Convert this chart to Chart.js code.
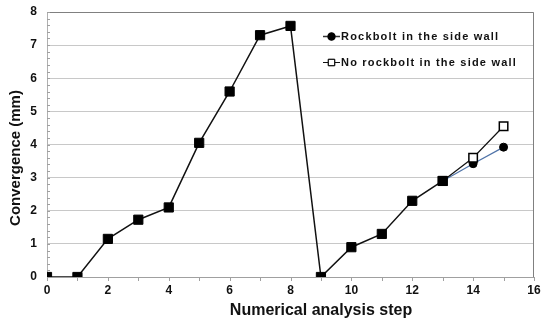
<!DOCTYPE html>
<html>
<head>
<meta charset="utf-8">
<script src="https://cdn.jsdelivr.net/npm/chart.js@4.4.1/dist/chart.umd.min.js"></script>
<style>
  html, body { margin: 0; padding: 0; background: #fff; }
  #wrap { width: 542px; height: 320px; position: relative; }
</style>
</head>
<body>
<div id="wrap"><canvas id="convChart" width="542" height="320"></canvas></div>
<script>
// numerical analysis steps and convergence (mm)
var commonSteps = [0, 1, 2, 3, 4, 5, 6, 7, 8, 9, 10, 11, 12, 13];
var commonValues = [0, 0, 1.15, 1.73, 2.1, 4.05, 5.6, 7.3, 7.58, 0, 0.9, 1.3, 2.3, 2.9];
var branchSteps = [13, 14, 15];
var rockboltValues = [2.9, 3.42, 3.92];
var noRockboltValues = [2.9, 3.6, 4.55];
var legendLabels = ['Rockbolt in the side wall', 'No rockbolt in the side wall'];
var xTitle = 'Numerical analysis step';
var yTitle = 'Convergence (mm)';

var FONT = '"Liberation Sans", Arial, sans-serif';

function pts(xs, ys) {
    return xs.map((x, i) => ({ x: x, y: ys[i] }));
}

// minor ticks, frame, titles and the legend inside the plot
var decoPlugin = {
    id: 'deco',
    afterDraw: function (chart) {
        var ctx = chart.ctx;
        var a = chart.chartArea;
        var xs = chart.scales.x, ys = chart.scales.y;
        ctx.save();

        // frame top + right
        ctx.strokeStyle = '#808080';
        ctx.lineWidth = 1;
        ctx.beginPath();
        ctx.moveTo(a.left, a.top + 0.5);
        ctx.lineTo(a.right - 0.5, a.top + 0.5);
        ctx.lineTo(a.right - 0.5, a.bottom);
        ctx.stroke();

        // y minor ticks (inside)
        ctx.strokeStyle = '#a0a0a0';
        ctx.beginPath();
        for (var v = 0; v <= 40; v++) {
            var py = Math.round(ys.getPixelForValue(v / 5)) + 0.5;
            ctx.moveTo(a.left, py);
            ctx.lineTo(a.left + 3, py);
        }
        // x ticks (below axis)
        for (var s = 0; s <= 16; s++) {
            var px = Math.round(xs.getPixelForValue(s)) + 0.5;
            ctx.moveTo(px, a.bottom);
            ctx.lineTo(px, a.bottom + 4);
        }
        ctx.stroke();

        // axis titles
        ctx.fillStyle = '#111';
        ctx.font = 'bold 16px ' + FONT;
        ctx.textAlign = 'center';
        ctx.textBaseline = 'middle';
        ctx.fillText(xTitle, 321, 311);
        ctx.save();
        ctx.translate(16, 158);
        ctx.rotate(-Math.PI / 2);
        ctx.font = 'bold 15px ' + FONT;
        ctx.fillText(yTitle, 0, 0);
        ctx.restore();

        // legend
        ctx.font = 'bold 11px ' + FONT;
        ctx.textAlign = 'left';
        ctx.letterSpacing = '1.2px';
        var rows = [
            { y: 36, ds: chart.data.datasets[2] },
            { y: 62, ds: chart.data.datasets[1] }
        ];
        rows.forEach(function (r, i) {
            var ds = r.ds;
            ctx.strokeStyle = i === 0 ? '#333' : '#111';
            ctx.lineWidth = i === 0 ? 1.5 : 1;
            ctx.beginPath();
            ctx.moveTo(323, r.y + 0.5);
            ctx.lineTo(340, r.y + 0.5);
            ctx.stroke();
            Chart.helpers.drawPoint(ctx, {
                pointStyle: ds.pointStyle,
                radius: i === 0 ? 3.5 : 4.5,
                borderWidth: 1
            }, 331.5, r.y + 0.5);
            ctx.lineWidth = 1;
            ctx.fillStyle = i === 0 ? '#000' : '#fff';
            ctx.strokeStyle = '#000';
            ctx.fill();
            ctx.stroke();
            ctx.fillStyle = '#111';
            ctx.fillText(legendLabels[i], 341, r.y + 1);
        });
        ctx.restore();
    }
};

new Chart(document.getElementById('convChart'), {
    type: 'line',
    data: {
        datasets: [
            {
                label: 'common',
                data: pts(commonSteps, commonValues),
                borderColor: '#111',
                borderWidth: 1.5,
                pointStyle: 'rect',
                pointRadius: 6.5,
                pointBorderWidth: 1,
                pointBackgroundColor: '#000',
                pointBorderColor: '#000',
                tension: 0
            },
            {
                label: legendLabels[1],
                data: pts(branchSteps, noRockboltValues),
                borderColor: '#111',
                borderWidth: 1.2,
                pointStyle: 'rect',
                pointRadius: 6,
                pointBorderWidth: 1.5,
                pointBackgroundColor: '#fff',
                pointBorderColor: '#000',
                tension: 0
            },
            {
                label: legendLabels[0],
                data: pts(branchSteps, rockboltValues),
                borderColor: '#4f73a8',
                borderWidth: 1.2,
                pointStyle: 'circle',
                pointRadius: 4,
                pointBorderWidth: 1,
                pointBackgroundColor: '#000',
                pointBorderColor: '#000',
                tension: 0
            }
        ]
    },
    options: {
        responsive: false,
        animation: false,
        devicePixelRatio: 1,
        layout: { padding: { top: 12, right: 8, left: 0, bottom: 0 } },
        plugins: {
            legend: { display: false },
            tooltip: { enabled: false }
        },
        scales: {
            x: {
                type: 'linear',
                min: 0,
                max: 16,
                afterFit: function (s) {
                    s.height = 43;
                    s.paddingLeft = 0;
                    s.paddingRight = 0;
                },
                ticks: {
                    stepSize: 2,
                    padding: 6,
                    color: '#111',
                    font: { family: FONT, size: 12, weight: 'bold' }
                },
                grid: { display: true, drawOnChartArea: false, drawTicks: false },
                border: { color: '#a0a0a0' }
            },
            y: {
                min: 0,
                max: 8,
                afterFit: function (s) {
                    s.width = 47;
                    s.paddingTop = 0;
                    s.paddingBottom = 0;
                },
                ticks: {
                    stepSize: 1,
                    padding: 10,
                    color: '#111',
                    font: { family: FONT, size: 12, weight: 'bold' }
                },
                grid: { color: '#c8c8c8', drawTicks: false },
                border: { color: '#b0b0b0' }
            }
        }
    },
    plugins: [decoPlugin]
});
</script>
</body>
</html>
